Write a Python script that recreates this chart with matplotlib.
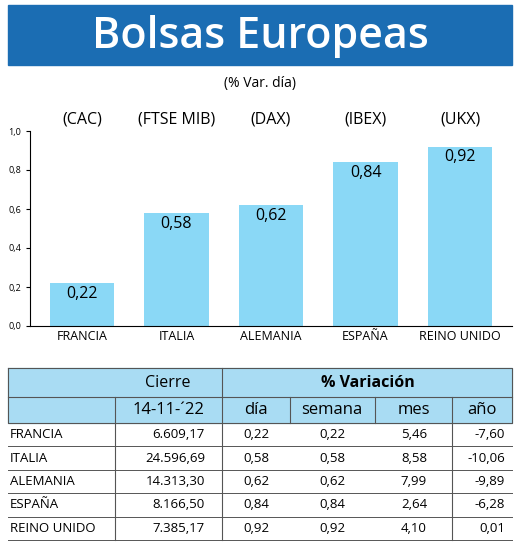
import matplotlib
matplotlib.use("Agg")
import matplotlib.pyplot as plt
from matplotlib.patches import Rectangle

plt.rcParams['font.family'] = ['Open Sans', 'DejaVu Sans']

countries = ["FRANCIA", "ITALIA", "ALEMANIA", "ESPAÑA", "REINO UNIDO"]
indices = ["(CAC)", "(FTSE MIB)", "(DAX)", "(IBEX)", "(UKX)"]
day_var = [0.22, 0.58, 0.62, 0.84, 0.92]
cierre = ["6.609,17", "24.596,69", "14.313,30", "8.166,50", "7.385,17"]
semana = ["0,22", "0,58", "0,62", "0,84", "0,92"]
mes = ["5,46", "8,58", "7,99", "2,64", "4,10"]
anio = ["-7,60", "-10,06", "-9,89", "-6,28", "0,01"]
yticks = [0.0, 0.2, 0.4, 0.6, 0.8, 1.0]

W, H = 520, 546
fig = plt.figure(figsize=(W/100, H/100), dpi=100)
fmt = lambda v: f"{v:.2f}".replace(".", ",")

ov = fig.add_axes([0, 0, 1, 1])
ov.set_xlim(0, W); ov.set_ylim(H, 0); ov.axis('off')
ov.add_patch(Rectangle((8, 5), 504, 60, color='#1b6db3'))
ov.text(260, 37, "Bolsas Europeas", color='white', fontsize=31, ha='center', va='center',
        fontweight='semibold')
ov.text(260, 83, "(% Var. día)", fontsize=10, ha='center', va='center')

L, R, T, B = 30, 512, 131, 326
ax = fig.add_axes([L/W, 1-B/H, (R-L)/W, (B-T)/H])
x = range(len(countries))
ax.bar(x, day_var, width=0.68, color='#8ad8f6')
ax.set_ylim(0, 1.0)
ax.set_xlim(-0.55, 4.55)
ax.set_yticks(yticks)
ax.set_yticklabels([f"{v:.1f}".replace(".", ",") for v in yticks], fontsize=6.5)
ax.set_xticks(list(x))
ax.set_xticklabels(countries, fontsize=9)
ax.tick_params(axis='x', length=0, pad=3)
ax.tick_params(axis='y', length=3)
for s in ['top', 'right']:
    ax.spines[s].set_visible(False)
for i, v in enumerate(day_var):
    ax.text(i, v - 0.055, fmt(v), ha='center', va='center', fontsize=11.5, fontweight='medium')
    ax.text(i, 1.06, indices[i], ha='center', va='center', fontsize=11.5, clip_on=False)

ov.add_patch(Rectangle((8, 368), 504, 55, color='#a9dcf3', zorder=0))
ov.plot([8, 512, 512, 8, 8], [368, 368, 423, 423, 368], color='#555', lw=0.8)
ov.plot([8, 512], [397, 397], color='#555', lw=0.8)
ov.plot([222, 222], [368, 540], color='#555', lw=0.8)
for xv in [115, 290, 375, 452]:
    ov.plot([xv, xv], [397, 423], color='#555', lw=0.8)
for xv in [115, 452]:
    ov.plot([xv, xv], [423, 540], color='#555', lw=0.8)
ov.text(168, 383, "Cierre", fontsize=11.5, ha='center', va='center', fontweight='medium')
ov.text(368, 383, "% Variación", fontsize=11.5, ha='center', va='center', fontweight='bold')
ov.text(168, 410, "14-11-´22", fontsize=12, ha='center', va='center')
for cx, t in [(256, "día"), (332, "semana"), (414, "mes"), (482, "año")]:
    ov.text(cx, 410, t, fontsize=12, ha='center', va='center')
row_h = 23.4
for i in range(5):
    yc = 423 + row_h * (i + 0.5)
    ov.plot([8, 512], [423 + row_h*(i+1)]*2, color='#555', lw=0.7)
    ov.text(10, yc, countries[i], fontsize=9.5, ha='left', va='center')
    ov.text(205, yc, cierre[i], fontsize=9.5, ha='right', va='center')
    ov.text(256, yc, fmt(day_var[i]), fontsize=9.5, ha='center', va='center')
    ov.text(332, yc, semana[i], fontsize=9.5, ha='center', va='center')
    ov.text(414, yc, mes[i], fontsize=9.5, ha='center', va='center')
    ov.text(505, yc, anio[i], fontsize=9.5, ha='right', va='center')

fig.savefig("out.png", dpi=100)
